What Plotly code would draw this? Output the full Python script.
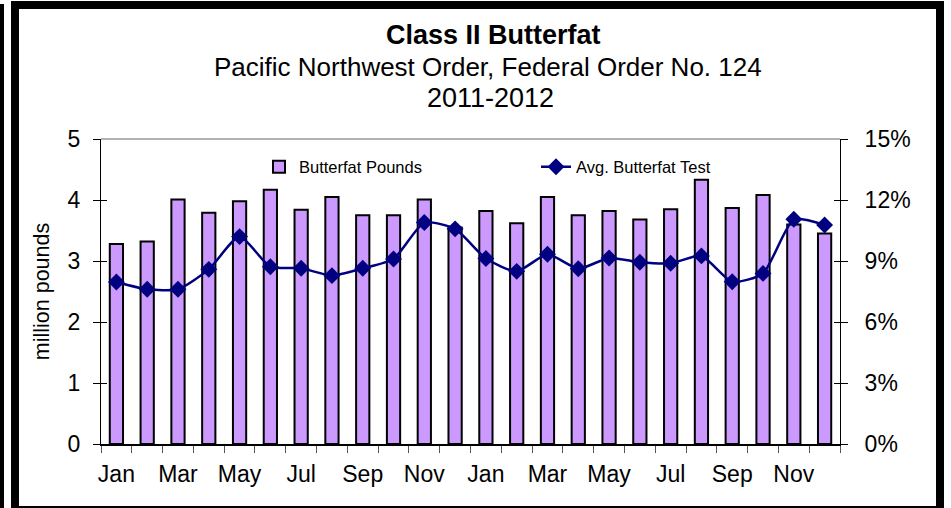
import plotly.graph_objects as go

# ---- data ----
months = ["Jan", "Feb", "Mar", "Apr", "May", "Jun",
          "Jul", "Aug", "Sep", "Oct", "Nov", "Dec"]
years = [2011, 2012]
categories = [f"{m} {y}" for y in years for m in months]

butterfat_pounds = [3.28, 3.32, 4.01, 3.79, 3.98, 4.17, 3.84, 4.05, 3.75, 3.75, 4.01, 3.55,
                    3.82, 3.62, 4.05, 3.75, 3.82, 3.68, 3.85, 4.33, 3.87, 4.08, 3.60, 3.45]
avg_butterfat_test = [7.97, 7.61, 7.61, 8.59, 10.20, 8.72, 8.64, 8.28, 8.64, 9.10, 10.89, 10.58,
                      9.12, 8.49, 9.33, 8.62, 9.15, 8.94, 8.89, 9.25, 7.98, 8.39, 11.05, 10.77]

left_ticks = [0, 1, 2, 3, 4, 5]
right_ticks = [0, 3, 6, 9, 12, 15]
right_tick_text = [f"{v}%" for v in right_ticks]

x_idx = list(range(len(categories)))
label_idx = x_idx[::2]
label_text = [categories[i].split()[0] for i in label_idx]
boundaries = [i - 0.5 for i in range(len(categories) + 1)]

FONT = "Liberation Sans, Arial, sans-serif"

fig = go.Figure()
fig.add_trace(go.Bar(
    x=x_idx, y=butterfat_pounds, name="Butterfat Pounds",
    marker=dict(color="#CC99FF", line=dict(color="black", width=2)),
    yaxis="y", hovertext=categories,
))
fig.add_trace(go.Scatter(
    x=x_idx, y=avg_butterfat_test, name="Avg. Butterfat Test",
    mode="lines+markers",
    line=dict(color="#000080", width=2.5, shape="spline", smoothing=0.6),
    marker=dict(symbol="diamond", size=13, color="#000080"),
    yaxis="y2", hovertext=categories,
))

W, H = 951, 508
L, R, T, B = 101, 111, 139, 64
pw, ph = W - L - R, H - T - B


def px_x(p):
    return (p - L) / pw


def px_y(p):
    return (H - B - p) / ph


# inner halves of the "cross" tick marks on both value axes
inner_tick_axis = dict(showgrid=False, zeroline=False, showline=False,
                       ticks="inside", ticklen=6, tickcolor="black",
                       showticklabels=False, fixedrange=True)

fig.update_layout(
    width=W, height=H,
    margin=dict(l=L, r=R, t=T, b=B, pad=0),
    paper_bgcolor="white", plot_bgcolor="white",
    font=dict(family=FONT, color="black"),
    bargap=0.57,
    showlegend=True,
    legend=dict(orientation="h", x=px_x(259), xanchor="left",
                y=px_y(167), yanchor="middle",
                bgcolor="rgba(0,0,0,0)", borderwidth=0,
                font=dict(size=16.5, family=FONT), entrywidth=232,
                traceorder="normal"),
    xaxis=dict(
        range=[-0.5, len(categories) - 0.5], showgrid=False, zeroline=False,
        tickvals=label_idx, ticktext=label_text, ticks="",
        tickfont=dict(size=23), ticklabelstandoff=9,
        showline=True, linecolor="black", linewidth=1.5,
        minor=dict(tickvals=boundaries, ticks="outside", ticklen=7,
                   tickcolor="#555", tickwidth=1, showgrid=False),
    ),
    yaxis=dict(
        range=[0, 5], tickvals=left_ticks, showgrid=False, zeroline=False,
        ticks="outside", ticklen=7, tickcolor="black",
        tickfont=dict(size=23), ticklabelstandoff=8,
        showline=True, linecolor="black", linewidth=1,
        title=dict(text="million pounds", font=dict(size=21.5), standoff=12),
    ),
    yaxis2=dict(
        range=[0, 15], tickmode="array", tickvals=right_ticks,
        ticktext=right_tick_text,
        overlaying="y", side="right", showgrid=False, zeroline=False,
        ticks="outside", ticklen=7, tickcolor="black",
        tickfont=dict(size=23), ticklabelstandoff=12,
        showline=True, linecolor="black", linewidth=1,
    ),
    yaxis3=dict(range=[0, 5], tickvals=left_ticks, overlaying="y",
                side="left", **inner_tick_axis),
    yaxis4=dict(range=[0, 15], tickvals=right_ticks, overlaying="y",
                side="right", **inner_tick_axis),
    annotations=[
        dict(text="<b>Class II Butterfat</b>", x=px_x(493), y=px_y(35),
             xref="paper", yref="paper", showarrow=False,
             xanchor="center", yanchor="middle", font=dict(size=27)),
        dict(text="Pacific Northwest Order, Federal Order No. 124",
             x=px_x(488), y=px_y(67), xref="paper", yref="paper",
             showarrow=False, xanchor="center", yanchor="middle",
             font=dict(size=26)),
        dict(text="2011-2012", x=px_x(490), y=px_y(98),
             xref="paper", yref="paper", showarrow=False,
             xanchor="center", yanchor="middle", font=dict(size=27)),
    ],
    shapes=[
        # plot area top border
        dict(type="line", xref="paper", yref="paper", x0=0, x1=1, y0=1, y1=1,
             line=dict(color="#666", width=1)),
        # outer frame
        dict(type="rect", xref="paper", yref="paper",
             x0=px_x(15), x1=px_x(940), y0=px_y(510), y1=px_y(5),
             line=dict(color="black", width=8), layer="above"),
        # left edge sliver
        dict(type="rect", xref="paper", yref="paper",
             x0=px_x(0), x1=px_x(4), y0=px_y(520), y1=px_y(4),
             fillcolor="black", line=dict(width=0), layer="above"),
    ],
)

# invisible anchor traces so the tick-only overlay axes are drawn
fig.add_trace(go.Scatter(x=[None], y=[None], yaxis="y3", showlegend=False,
                         hoverinfo="skip"))
fig.add_trace(go.Scatter(x=[None], y=[None], yaxis="y4", showlegend=False,
                         hoverinfo="skip"))

fig.write_html("out.html",
               config={"displayModeBar": False},
               post_script="document.body.style.margin='0';document.body.style.overflow='hidden';")
